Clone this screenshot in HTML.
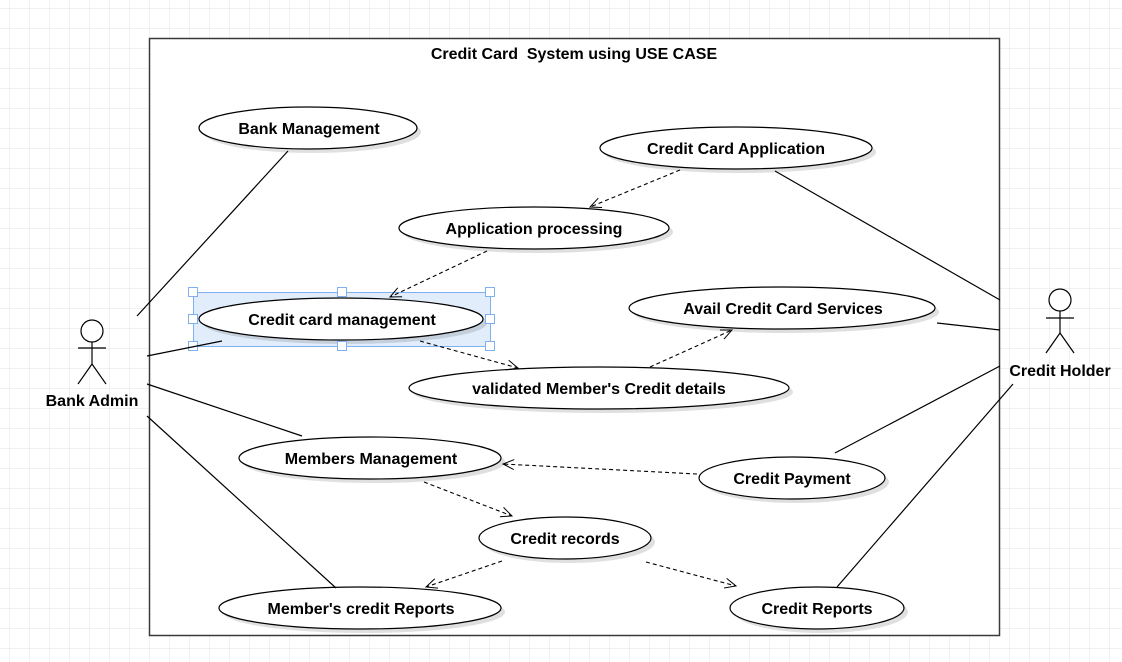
<!DOCTYPE html>
<html><head><meta charset="utf-8"><style>
html,body{margin:0;padding:0;background:#fff}
svg{display:block}
text{font-family:"Liberation Sans",Arial,sans-serif;font-weight:bold;font-size:16px;fill:#000}
</style></head><body>
<svg width="1122" height="662" viewBox="0 0 1122 662" xmlns="http://www.w3.org/2000/svg">
<defs>
<pattern id="g" x="9.5" y="8.5" width="20" height="20" patternUnits="userSpaceOnUse">
<path d="M0 0H20M0 0V20" stroke="#e3e3e3" stroke-width="1" fill="none"/>
</pattern>
<marker id="a" markerWidth="14" markerHeight="12" refX="12" refY="6" orient="auto" markerUnits="userSpaceOnUse">
<path d="M1 1L12 6L1 11" fill="none" stroke="#000" stroke-width="1"/>
</marker>
</defs>
<rect width="1122" height="662" fill="url(#g)"/>
<rect x="149.5" y="38.5" width="850" height="597" fill="#fff" stroke="#3a3a3a" stroke-width="1.5"/>
<text x="574" y="59" text-anchor="middle" font-size="15" xml:space="preserve">Credit Card&#160; System using USE CASE</text>

<rect x="193" y="292" width="297" height="54" fill="#d6e6fa" opacity="0.7"/>
<rect x="193.5" y="292.5" width="297" height="54" fill="none" stroke="#7fb0f0" stroke-width="1"/>

<g fill="#000" opacity="0.12">
<ellipse cx="312" cy="132" rx="109" ry="21"/>
<ellipse cx="740" cy="152" rx="136" ry="21"/>
<ellipse cx="538" cy="232" rx="135" ry="21"/>
<ellipse cx="345" cy="323" rx="142" ry="21"/>
<ellipse cx="786" cy="312" rx="153" ry="21"/>
<ellipse cx="603" cy="392" rx="190" ry="21"/>
<ellipse cx="374" cy="462" rx="131" ry="21"/>
<ellipse cx="796" cy="482" rx="93" ry="21"/>
<ellipse cx="569" cy="542" rx="86" ry="21"/>
<ellipse cx="364" cy="612" rx="141" ry="21"/>
<ellipse cx="821" cy="612" rx="87" ry="21"/>
</g>
<g fill="#fff" stroke="#000" stroke-width="1.2">
<ellipse cx="308" cy="128" rx="109" ry="21"/>
<ellipse cx="736" cy="148" rx="136" ry="21"/>
<ellipse cx="534" cy="228" rx="135" ry="21"/>
<ellipse cx="341" cy="319" rx="142" ry="21"/>
<ellipse cx="782" cy="308" rx="153" ry="21"/>
<ellipse cx="599" cy="388" rx="190" ry="21"/>
<ellipse cx="370" cy="458" rx="131" ry="21"/>
<ellipse cx="792" cy="478" rx="93" ry="21"/>
<ellipse cx="565" cy="538" rx="86" ry="21"/>
<ellipse cx="360" cy="608" rx="141" ry="21"/>
<ellipse cx="817" cy="608" rx="87" ry="21"/>
</g>
<g text-anchor="middle">
<text x="309" y="134">Bank Management</text>
<text x="736" y="154">Credit Card Application</text>
<text x="534" y="234">Application processing</text>
<text x="342" y="325">Credit card management</text>
<text x="783" y="314">Avail Credit Card Services</text>
<text x="599" y="394">validated Member's Credit details</text>
<text x="371" y="464">Members Management</text>
<text x="792" y="484">Credit Payment</text>
<text x="565" y="544">Credit records</text>
<text x="361" y="614">Member's credit Reports</text>
<text x="817" y="614">Credit Reports</text>
</g>

<g fill="#fff" stroke="#7fb0f0" stroke-width="1">
<rect x="188.5" y="287.5" width="9" height="9"/><rect x="337.5" y="287.5" width="9" height="9"/><rect x="485.5" y="287.5" width="9" height="9"/>
<rect x="188.5" y="314.5" width="9" height="9"/><rect x="485.5" y="314.5" width="9" height="9"/>
<rect x="188.5" y="341.5" width="9" height="9"/><rect x="337.5" y="341.5" width="9" height="9"/><rect x="485.5" y="341.5" width="9" height="9"/>
</g>

<g stroke="#000" stroke-width="1.2" fill="none">
<path d="M137 316L288 151"/>
<path d="M147 356L222 341"/>
<path d="M147 384L302 436"/>
<path d="M147 416L336 588"/>
<path d="M775 171L1000 300"/>
<path d="M937 323L1000 330"/>
<path d="M1000 366L835 453"/>
<path d="M1013 384L837 587"/>
</g>
<g stroke="#000" stroke-width="1.1" fill="none" stroke-dasharray="4 3" marker-end="url(#a)">
<path d="M680 170L590 207"/>
<path d="M487 251L390 297"/>
<path d="M420 341L518 368"/>
<path d="M650 367L732 330"/>
<path d="M697 474L503 464"/>
<path d="M424 482L512 516"/>
<path d="M502 561L426 587"/>
<path d="M646 562L736 586"/>
</g>

<g stroke="#000" stroke-width="1.2" fill="#fff">
<circle cx="92" cy="331" r="11"/>
<path d="M92 342V364M78 348H106M92 364L78 384M92 364L106 384" fill="none"/>
<circle cx="1060" cy="300" r="11"/>
<path d="M1060 311V333M1046 318H1074M1060 333L1046 353M1060 333L1074 353" fill="none"/>
</g>
<text x="92" y="406" text-anchor="middle" font-size="15.5">Bank Admin</text>
<text x="1060" y="376" text-anchor="middle" font-size="15.5">Credit Holder</text>
</svg>
</body></html>
